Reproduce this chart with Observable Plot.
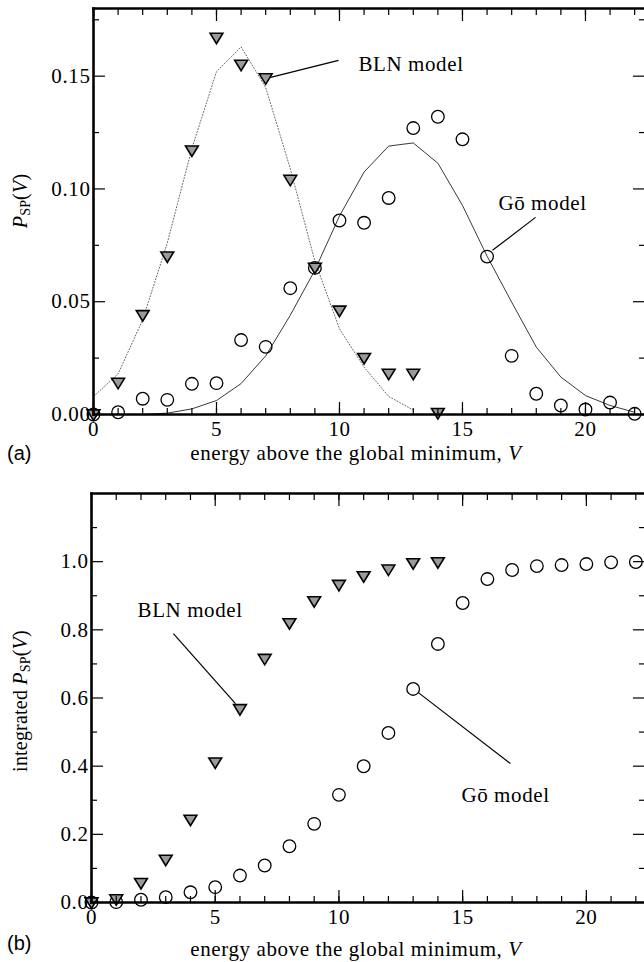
<!DOCTYPE html>
<html><head><meta charset="utf-8">
<script src="https://cdn.jsdelivr.net/npm/d3@7"></script>
<script src="https://cdn.jsdelivr.net/npm/@observablehq/plot@0.6"></script>
<style>
html,body{margin:0;padding:0;background:#fff;}
#chart svg{display:block;}
</style></head><body><div id="chart"></div>
<script>
// ---------- data ----------
// panel (a): P_SP(V)
const blnV = [0,1,2,3,4,5,6,7,8,9,10,11,12,13,14];
const blnP = [0.0,0.014,0.044,0.070,0.117,0.167,0.155,0.149,0.104,0.065,0.046,0.025,0.018,0.018,0.0006];
const blnFitV = [0,1,2,3,4,5,6,7,8,9,10,11,12,13];
const blnFitP = [0.008,0.018,0.042,0.076,0.118,0.152,0.163,0.145,0.109,0.068,0.038,0.021,0.008,0.002];
const goV = [0,1,2,3,4,5,6,7,8,9,10,11,12,13,14,15,16,17,18,19,20,21,22];
const goP = [0.0,0.001,0.007,0.0065,0.0136,0.0139,0.033,0.030,0.056,0.065,0.086,0.085,0.096,0.127,0.132,0.122,0.070,0.026,0.0092,0.004,0.0022,0.0053,0.0003];
const goFitV = [2,3,4,5,6,7,8,9,10,11,12,13,14,15,16,17,18,19,20,21,22];
const goFitP = [0.0,0.0006,0.0025,0.0062,0.0137,0.026,0.044,0.064,0.088,0.1075,0.119,0.1204,0.1114,0.0927,0.0702,0.0498,0.0299,0.0166,0.0084,0.004,0.001];
// panel (b): integrated P_SP(V)
const blnCumV = [0,1,2,3,4,5,6,7,8,9,10,11,12,13,14];
const blnCum = [0.0,0.009,0.057,0.125,0.2425,0.4106,0.567,0.7146,0.819,0.8836,0.9316,0.957,0.9765,0.995,0.998];
const goCumV = [0,1,2,3,4,5,6,7,8,9,10,11,12,13,14,15,16,17,18,19,20,21,22];
const goCum = [0.0,0.001,0.008,0.0157,0.030,0.045,0.079,0.1085,0.165,0.2307,0.3158,0.3998,0.4975,0.6266,0.7586,0.8788,0.949,0.9756,0.987,0.990,0.993,0.998,0.999];
// ticks
const xMajor = [0,5,10,15,20];
const xMinor = [0,1,2,3,4,5,6,7,8,9,10,11,12,13,14,15,16,17,18,19,20,21,22];
const yMajorA = [0,0.05,0.10,0.15];
const yMinorA = [0.025,0.075,0.125,0.175];
const yMajorB = [0,0.2,0.4,0.6,0.8,1.0];
const yMinorB = [0.1,0.3,0.5,0.7,0.9,1.1];
// annotations
const annA = [
  {text: "BLN model", tx: 10.77, ty: 0.1553, x1: 7.2, y1: 0.1495, x2: 9.96, y2: 0.157},
  {text: "Gō model", tx: 16.46, ty: 0.0936, x1: 16.22, y1: 0.0728, x2: 17.97, y2: 0.0874}
];
const annB = [
  {text: "BLN model", tx: 1.86, ty: 0.856, x1: 3.31, y1: 0.789, x2: 5.82, y2: 0.5836},
  {text: "Gō model", tx: 14.95, ty: 0.3138, x1: 13.21, y1: 0.6158, x2: 16.93, y2: 0.4076}
];

// ---------- styling helpers ----------
const serif = "'Liberation Serif', 'Times New Roman', serif";
const sans = "'Liberation Sans', Arial, sans-serif";
const FS = 21;

const triDown = {
  draw(context, size) {
    const r = Math.sqrt(size / Math.PI);
    context.moveTo(-r, -0.72 * r);
    context.lineTo(r, -0.72 * r);
    context.lineTo(0, 0.92 * r);
    context.closePath();
  }
};

function zip(xs, ys) { return xs.map((x, i) => ({x, y: ys[i]})); }

function frameAxes(yMajor, yMinor, fmt) {
  return [
    Plot.axisX(xMinor, {anchor: "bottom", tickSize: -6, text: null, label: null, strokeWidth: 1.2}),
    Plot.axisX(xMajor, {anchor: "bottom", tickSize: -12, text: null, label: null, strokeWidth: 1.2}),
    Plot.axisX(xMajor, {anchor: "bottom", tickSize: 0, tickPadding: 7, label: null, fontSize: FS, fontFamily: serif}),
    Plot.axisX(xMinor, {anchor: "top", tickSize: -6, text: null, label: null, strokeWidth: 1.2}),
    Plot.axisX(xMajor, {anchor: "top", tickSize: -12, text: null, label: null, strokeWidth: 1.2}),
    Plot.axisY(yMinor, {anchor: "left", tickSize: -6, text: null, label: null, strokeWidth: 1.2}),
    Plot.axisY(yMajor, {anchor: "left", tickSize: -12, text: null, label: null, strokeWidth: 1.2}),
    Plot.axisY(yMajor, {anchor: "left", tickSize: 0, tickPadding: 3, label: null, tickFormat: d3.format(fmt), fontSize: FS, fontFamily: serif}),
    Plot.axisY(yMinor, {anchor: "right", tickSize: -6, text: null, label: null, strokeWidth: 1.2}),
    Plot.axisY(yMajor, {anchor: "right", tickSize: -12, text: null, label: null, strokeWidth: 1.2}),
    Plot.frame({anchor: "left", strokeWidth: 2.6}),
    Plot.frame({anchor: "top", strokeWidth: 2.6}),
    Plot.frame({anchor: "bottom", strokeWidth: 2.6})
  ];
}

function annotations(ann) {
  return [
    Plot.link(ann, {x1: "x1", y1: "y1", x2: "x2", y2: "y2", stroke: "#000", strokeWidth: 1.2}),
    Plot.text(ann, {x: "tx", y: "ty", text: "text", textAnchor: "start", lineAnchor: "middle", fontSize: FS, fontFamily: serif, fill: "#000"})
  ];
}

function addLabels(svg, opts) {
  const s = d3.select(svg);
  // x title
  const xt = s.append("text").attr("x", opts.xtx).attr("y", opts.xty)
    .attr("text-anchor", "middle").attr("font-family", serif).attr("font-size", FS).attr("fill", "#000");
  xt.append("tspan").text("energy above the global minimum, ");
  xt.append("tspan").attr("font-style", "italic").text("V");
  // panel letter
  s.append("text").attr("x", 7).attr("y", opts.py).attr("text-anchor", "start")
    .attr("font-family", sans).attr("font-size", 20).style("letter-spacing", "0px").attr("fill", "#000").text(opts.panel);
  // y title
  const yt = s.append("text").attr("transform", `translate(${opts.ytx},${opts.yty}) rotate(-90)`)
    .attr("text-anchor", "middle").attr("dominant-baseline", "middle")
    .attr("font-family", serif).attr("font-size", 20).style("letter-spacing", "0.2px").attr("fill", "#000");
  if (opts.prefix) yt.append("tspan").text(opts.prefix);
  yt.append("tspan").attr("font-style", "italic").text("P");
  yt.append("tspan").attr("font-size", 14).attr("dy", 5).text("SP");
  yt.append("tspan").attr("dy", -5).text("(");
  yt.append("tspan").attr("font-style", "italic").text("V");
  yt.append("tspan").text(")");
}

const baseStyle = {background: "#fff", color: "#000", fontFamily: serif, fontSize: FS + "px", letterSpacing: "0.6px", overflow: "visible"};

// ---------- panel (a) ----------
const plotA = Plot.plot({
  width: 644, height: 470,
  marginLeft: 93, marginRight: 0, marginTop: 8, marginBottom: 56,
  style: baseStyle,
  x: {domain: [0, 22.4]},
  y: {domain: [0, 0.18]},
  marks: [
    Plot.line(zip(blnFitV, blnFitP), {x: "x", y: "y", stroke: "#666", strokeWidth: 1, strokeDasharray: "1,2"}),
    Plot.line(zip(goFitV, goFitP), {x: "x", y: "y", stroke: "#222", strokeWidth: 0.9}),
    Plot.dot(zip(goV, goP), {x: "x", y: "y", r: 6.3, stroke: "#000", strokeWidth: 1.3, fill: "none"}),
    Plot.dot(zip(blnV, blnP), {x: "x", y: "y", r: 6.4, symbol: triDown, stroke: "#000", strokeWidth: 1.6, fill: "#9a9a9a"}),
    ...annotations(annA),
    ...frameAxes(yMajorA, yMinorA, ".2f")
  ]
});
addLabels(plotA, {xtx: 356, xty: 460, panel: "(a)", py: 460, ytx: 22, yty: 201, prefix: null});

// ---------- panel (b) ----------
const plotB = Plot.plot({
  width: 644, height: 492,
  marginLeft: 91, marginRight: 0, marginTop: 23, marginBottom: 60,
  style: baseStyle,
  x: {domain: [0, 22.35]},
  y: {domain: [0, 1.2]},
  marks: [
    Plot.dot(zip(goCumV, goCum), {x: "x", y: "y", r: 6.3, stroke: "#000", strokeWidth: 1.3, fill: "none"}),
    Plot.dot(zip(blnCumV, blnCum), {x: "x", y: "y", r: 6.4, symbol: triDown, stroke: "#000", strokeWidth: 1.6, fill: "#9a9a9a"}),
    ...annotations(annB),
    ...frameAxes(yMajorB, yMinorB, ".1f")
  ]
});
addLabels(plotB, {xtx: 356, xty: 486, panel: "(b)", py: 480, ytx: 22, yty: 231, prefix: "integrated "});

document.getElementById("chart").append(plotA, plotB);
</script>
</body></html>
